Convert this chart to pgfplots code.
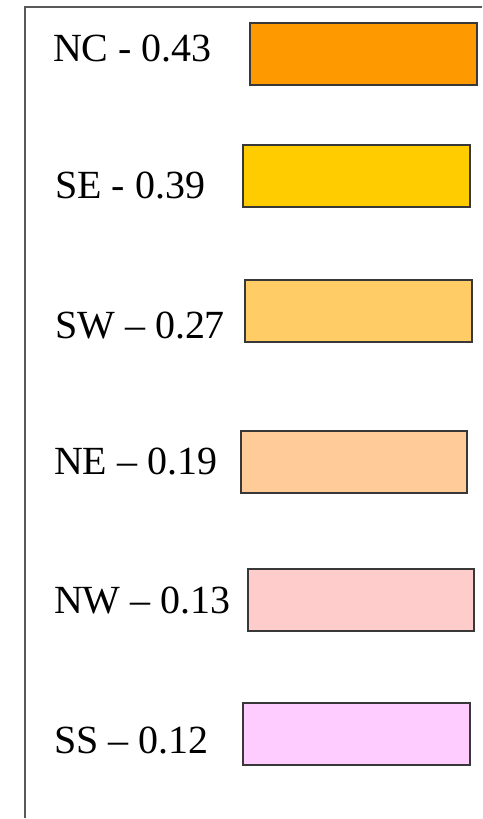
\documentclass[border=0pt]{standalone}
\usepackage{fontspec}
\setmainfont{Liberation Serif}
\usepackage{pgfplots}
\pgfplotsset{compat=1.18}
\definecolor{cNC}{HTML}{FF9900}
\definecolor{cSE}{HTML}{FFCC00}
\definecolor{cSW}{HTML}{FFCC66}
\definecolor{cNE}{HTML}{FFCC99}
\definecolor{cNW}{HTML}{FFCCCC}
\definecolor{cSS}{HTML}{FFCCFF}
\newcommand{\lbl}{\fontsize{40bp}{48bp}\selectfont}
\tikzset{
  lab/.style={inner sep=0pt, anchor=base west},
  sw/.style={draw=black!78, line width=2bp, mark=none, line join=miter},
}
\begin{document}
\begin{tikzpicture}
\begin{axis}[
  scale only axis, width=482bp, height=819bp,
  xmin=0, xmax=482, ymin=0, ymax=819, y dir=reverse,
  hide axis, clip=false,
]
\path (rel axis cs:0,0) rectangle (rel axis cs:1,1);
% frame lines
\addplot[black!65, line width=1.6bp, mark=none] coordinates {(482,7) (25,7) (25,819)};
% swatches
\addplot[fill=cNC, sw] coordinates {(250,23) (477,23) (477,85) (250,85) (250,23)} -- cycle;
\addplot[fill=cSE, sw] coordinates {(243,145) (470,145) (470,207) (243,207) (243,145)} -- cycle;
\addplot[fill=cSW, sw] coordinates {(245,280) (472,280) (472,342) (245,342) (245,280)} -- cycle;
\addplot[fill=cNE, sw] coordinates {(241,431) (467,431) (467,493) (241,493) (241,431)} -- cycle;
\addplot[fill=cNW, sw] coordinates {(248,570) (474,570) (474,632) (248,632) (248,570)} -- cycle;
\addplot[fill=cSS, sw] coordinates {(243,704) (470,704) (470,766) (243,766) (243,704)} -- cycle;
% labels
\node[lab] at (axis cs:53,62) {\lbl NC - 0.43};
\node[lab] at (axis cs:55,199) {\lbl SE - 0.39};
\node[lab] at (axis cs:55,339) {\lbl SW -- 0.27};
\node[lab] at (axis cs:54,475) {\lbl NE -- 0.19};
\node[lab] at (axis cs:54,614) {\lbl NW -- 0.13};
\node[lab] at (axis cs:54,754) {\lbl SS -- 0.12};
\end{axis}
\end{tikzpicture}
\end{document}
